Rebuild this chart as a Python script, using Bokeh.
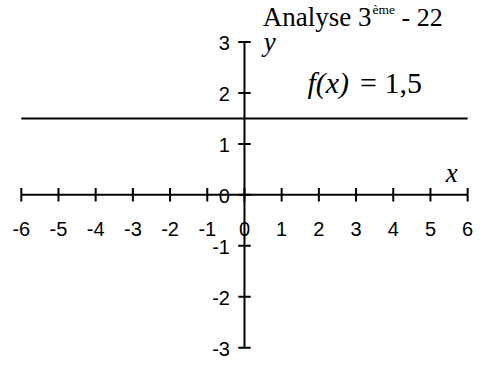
import math
from bokeh.plotting import figure
from bokeh.models import Range1d
from bokeh.core.properties import value
from bokeh.embed import file_html
from bokeh.resources import INLINE

# ---- data ----
x_ticks = [-6, -5, -4, -3, -2, -1, 0, 1, 2, 3, 4, 5, 6]
x_tick_labels = ["-6", "-5", "-4", "-3", "-2", "-1", "0", "1", "2", "3", "4", "5", "6"]
y_ticks = [-3, -2, -1, 0, 1, 2, 3]
y_tick_labels = ["-3", "-2", "-1", "0", "1", "2", "3"]
x_domain = [-6, 6]
y_domain = [-3, 3]
f_value = 1.5
title_main = "Analyse 3"
title_sup = "ème"
title_tail = "- 22"
f_name = "f(x)"
f_eq = "= 1,5"
x_name = "x"
y_name = "y"

# ---- layout ----
W, H = 486, 360
sx, sy = W / 502, H / 376          # scale of the whole drawing
ux, uy = 38.42 * sx, 53.2 * sy     # pixels per unit
ox, oy = 252 * sx, 203 * sy        # origin position inside the figure (px from left/top)

p = figure(width=W, height=H,
           x_range=Range1d(-ox / ux, (W - ox) / ux),
           y_range=Range1d(-(H - oy) / uy, oy / uy),
           x_axis_type=None, y_axis_type=None,
           output_backend="svg", toolbar_location=None,
           min_border=0, outline_line_color=None)
p.grid.visible = False
p.background_fill_color = "white"
p.border_fill_color = "white"

# the function f(x) = 1.5
p.line(x=x_domain, y=[f_value, f_value], line_color="black", line_width=2)

# axes
p.segment(x0=[x_domain[0], 0], y0=[0, y_domain[0]],
          x1=[x_domain[1], 0], y1=[0, y_domain[1]],
          line_color="black", line_width=2)

# ticks
p.scatter(x=x_ticks, y=[0] * len(x_ticks), marker="dash", angle=math.pi / 2,
          size=13.5, line_color="black", line_width=2)
p.scatter(x=[0] * len(y_ticks), y=y_ticks, marker="dash",
          size=12.5, line_color="black", line_width=2)

sans = value("Liberation Sans")
serif = value("Liberation Serif")

# tick labels
p.text(x=x_ticks, y=[0] * len(x_ticks), text=x_tick_labels,
       text_font=sans, text_font_size="20px", text_color="black",
       text_align="center", text_baseline="middle", y_offset=34)
p.text(x=[0] * len(y_ticks), y=y_ticks, text=y_tick_labels,
       text_font=sans, text_font_size="20px", text_color="black",
       text_align="right", text_baseline="middle", x_offset=-14.5, y_offset=1)

# axis names
p.text(x=[x_domain[1]], y=[0], text=[x_name], text_font=serif,
       text_font_style="italic", text_font_size="27px", text_color="black",
       text_align="left", text_baseline="middle", x_offset=-22, y_offset=-21.5)
p.text(x=[0], y=[y_domain[1]], text=[y_name], text_font=serif,
       text_font_style="italic", text_font_size="27px", text_color="black",
       text_align="left", text_baseline="middle", x_offset=19.4, y_offset=0)

# title pieces
p.text(x=[0, 0, 0], y=[y_domain[1]] * 3, text=[title_main, title_sup, title_tail],
       text_font=serif, text_font_size=["27px", "13.5px", "26px"], text_color="black",
       text_align="left", text_baseline="middle",
       x_offset=[18.4, 128, 157], y_offset=[-25, -33, -25])

# function label
p.text(x=[0], y=[f_value], text=[f_name], text_font=serif,
       text_font_style="italic", text_font_size="30px", text_color="black",
       text_align="left", text_baseline="middle", x_offset=63, y_offset=-36)
p.text(x=[0], y=[f_value], text=[f_eq], text_font=serif,
       text_font_size="30px", text_color="black",
       text_align="left", text_baseline="middle", x_offset=115.5, y_offset=-36)

open("out.html", "w").write(file_html(p, INLINE))
